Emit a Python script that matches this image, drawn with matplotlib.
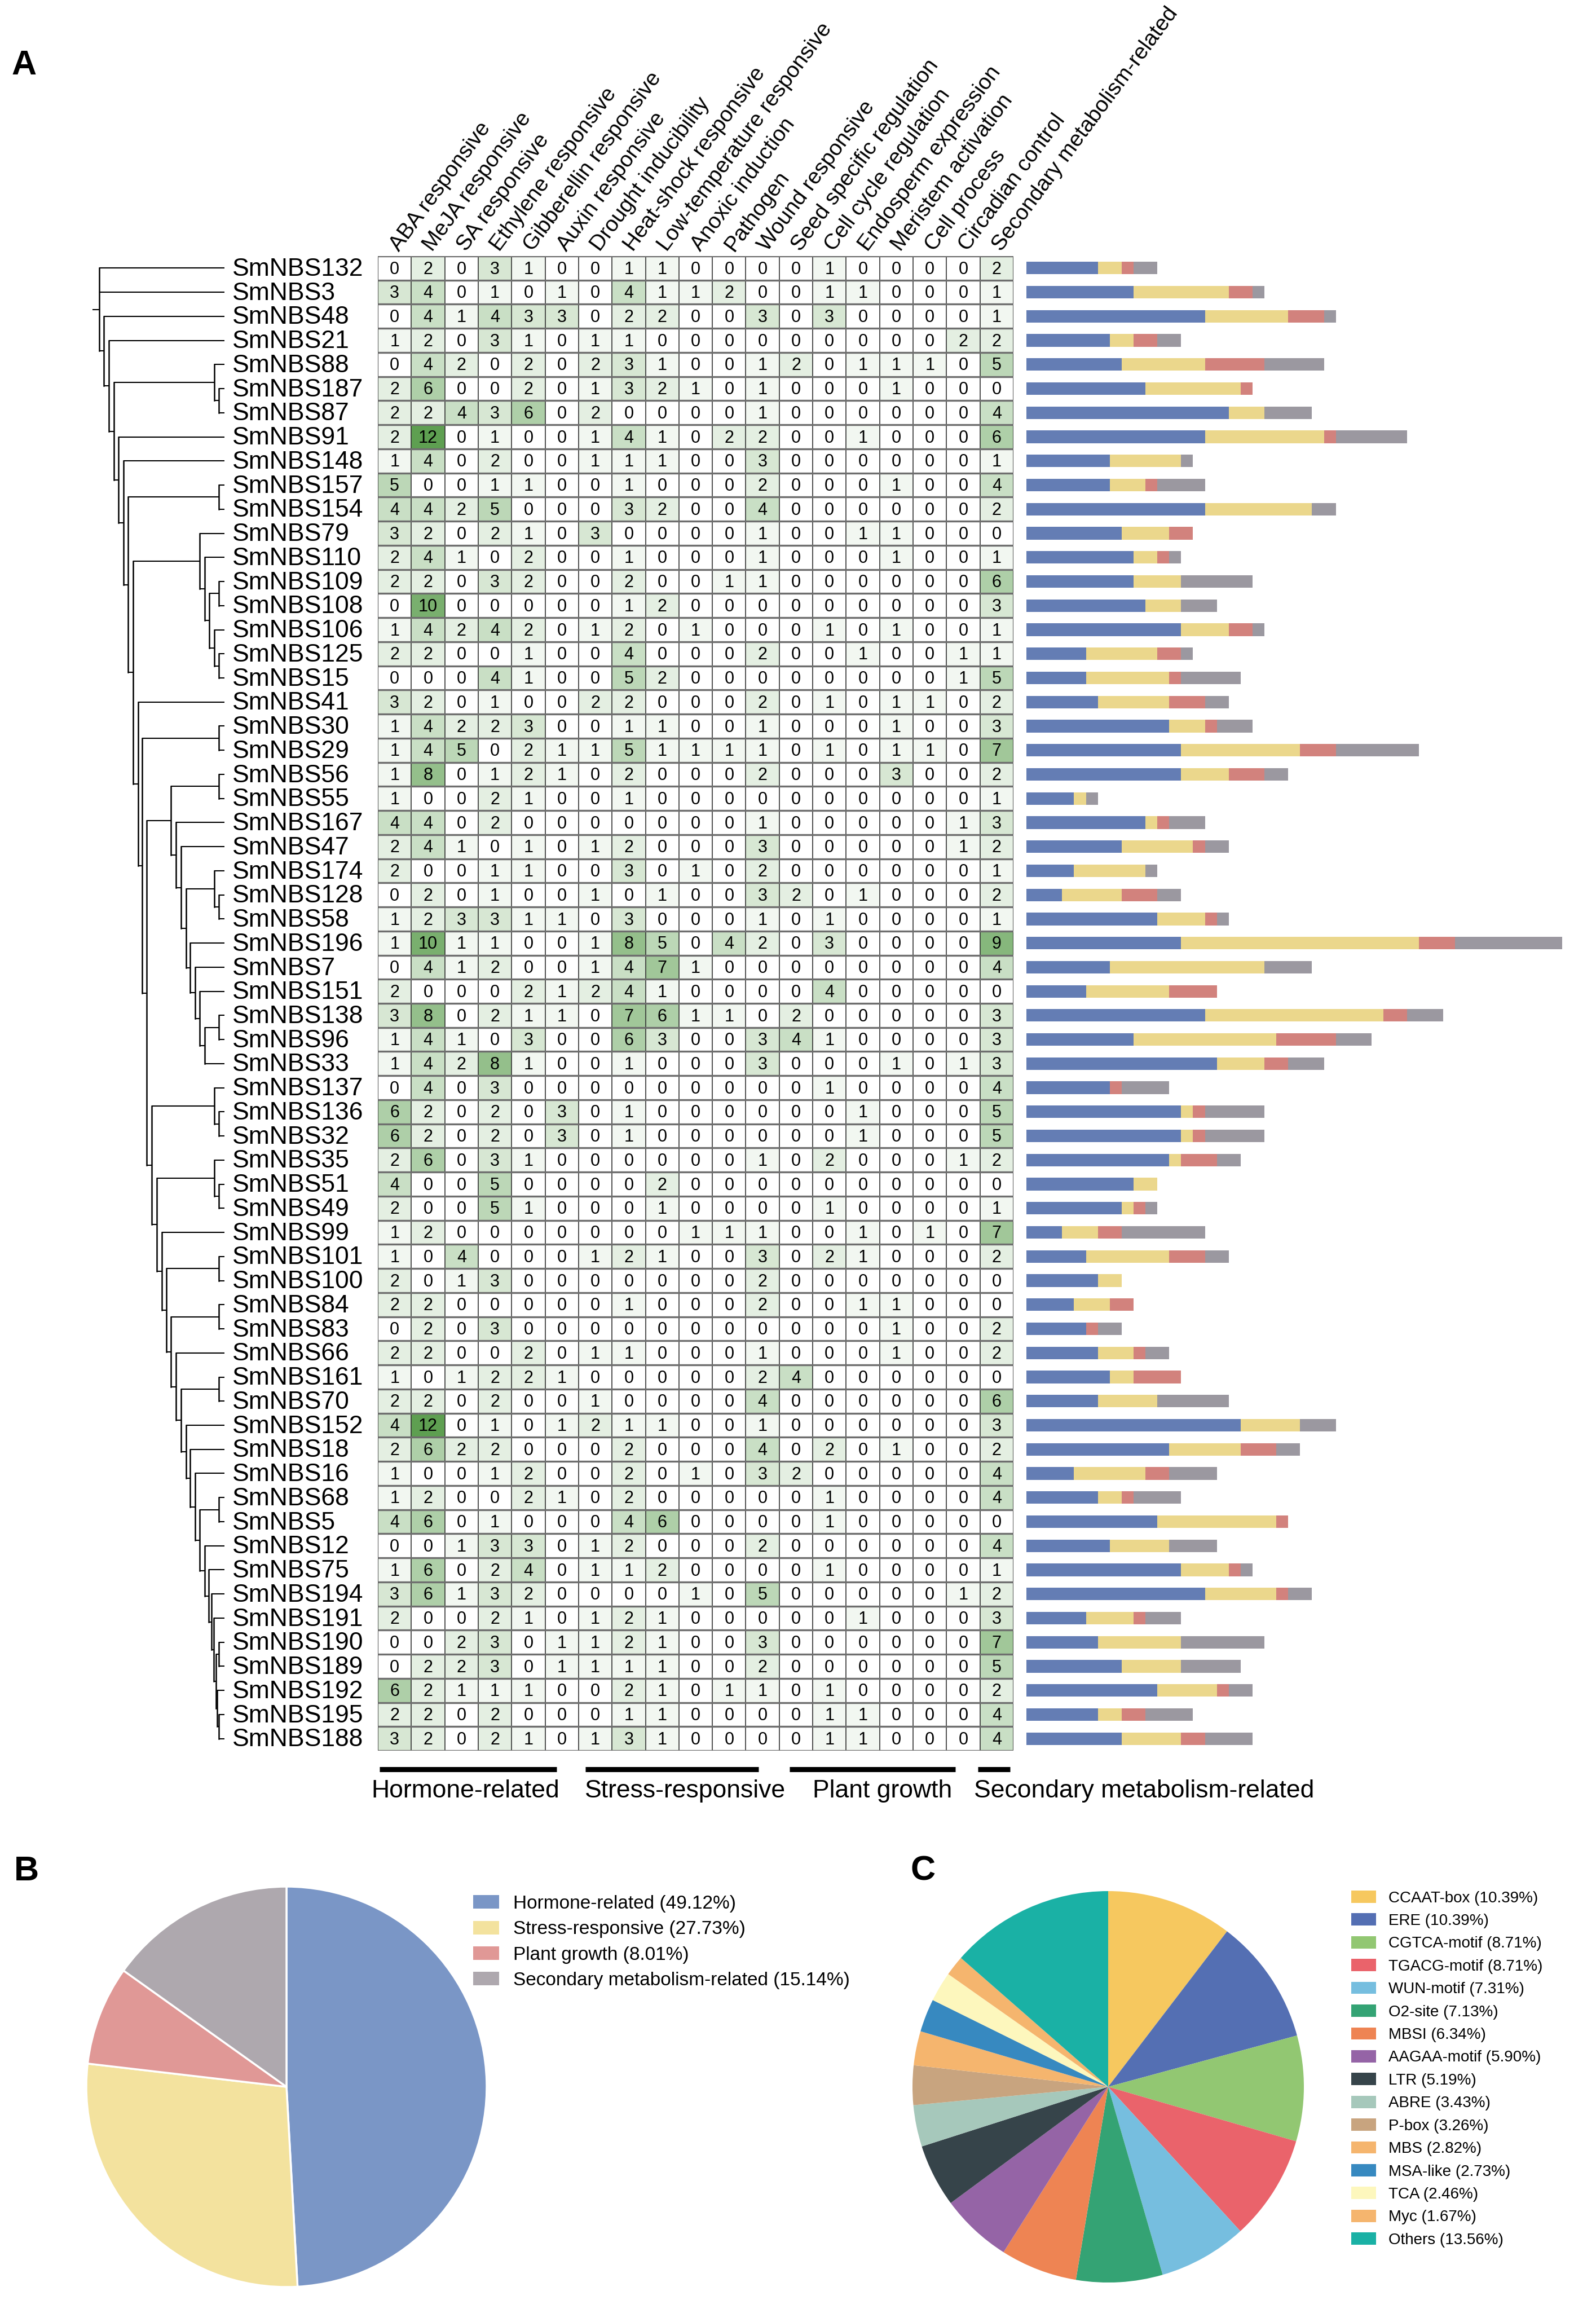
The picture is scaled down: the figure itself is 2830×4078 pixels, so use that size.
import numpy as np
import matplotlib
matplotlib.use("Agg")
import matplotlib.pyplot as plt
from matplotlib.colors import LinearSegmentedColormap
from matplotlib.patches import Patch
from matplotlib.transforms import blended_transform_factory

plt.rcParams['font.family'] = ['Liberation Sans', 'DejaVu Sans']

# ---------------- data ----------------
elements = ["ABA responsive", "MeJA responsive", "SA responsive", "Ethylene responsive",
            "Gibberellin responsive", "Auxin responsive", "Drought inducibility",
            "Heat-shock responsive", "Low-temperature responsive", "Anoxic induction",
            "Pathogen", "Wound responsive", "Seed specific regulation", "Cell cycle regulation",
            "Endosperm expression", "Meristem activation", "Cell process", "Circadian control",
            "Secondary metabolism-related"]

genes = ["SmNBS132", "SmNBS3", "SmNBS48", "SmNBS21", "SmNBS88", "SmNBS187", "SmNBS87", "SmNBS91",
         "SmNBS148", "SmNBS157", "SmNBS154", "SmNBS79", "SmNBS110", "SmNBS109", "SmNBS108",
         "SmNBS106", "SmNBS125", "SmNBS15", "SmNBS41", "SmNBS30", "SmNBS29", "SmNBS56", "SmNBS55",
         "SmNBS167", "SmNBS47", "SmNBS174", "SmNBS128", "SmNBS58", "SmNBS196", "SmNBS7", "SmNBS151",
         "SmNBS138", "SmNBS96", "SmNBS33", "SmNBS137", "SmNBS136", "SmNBS32", "SmNBS35", "SmNBS51",
         "SmNBS49", "SmNBS99", "SmNBS101", "SmNBS100", "SmNBS84", "SmNBS83", "SmNBS66", "SmNBS161",
         "SmNBS70", "SmNBS152", "SmNBS18", "SmNBS16", "SmNBS68", "SmNBS5", "SmNBS12", "SmNBS75",
         "SmNBS194", "SmNBS191", "SmNBS190", "SmNBS189", "SmNBS192", "SmNBS195", "SmNBS188"]

counts = [
    [0, 2, 0, 3, 1, 0, 0, 1, 1, 0, 0, 0, 0, 1, 0, 0, 0, 0, 2],
    [3, 4, 0, 1, 0, 1, 0, 4, 1, 1, 2, 0, 0, 1, 1, 0, 0, 0, 1],
    [0, 4, 1, 4, 3, 3, 0, 2, 2, 0, 0, 3, 0, 3, 0, 0, 0, 0, 1],
    [1, 2, 0, 3, 1, 0, 1, 1, 0, 0, 0, 0, 0, 0, 0, 0, 0, 2, 2],
    [0, 4, 2, 0, 2, 0, 2, 3, 1, 0, 0, 1, 2, 0, 1, 1, 1, 0, 5],
    [2, 6, 0, 0, 2, 0, 1, 3, 2, 1, 0, 1, 0, 0, 0, 1, 0, 0, 0],
    [2, 2, 4, 3, 6, 0, 2, 0, 0, 0, 0, 1, 0, 0, 0, 0, 0, 0, 4],
    [2, 12, 0, 1, 0, 0, 1, 4, 1, 0, 2, 2, 0, 0, 1, 0, 0, 0, 6],
    [1, 4, 0, 2, 0, 0, 1, 1, 1, 0, 0, 3, 0, 0, 0, 0, 0, 0, 1],
    [5, 0, 0, 1, 1, 0, 0, 1, 0, 0, 0, 2, 0, 0, 0, 1, 0, 0, 4],
    [4, 4, 2, 5, 0, 0, 0, 3, 2, 0, 0, 4, 0, 0, 0, 0, 0, 0, 2],
    [3, 2, 0, 2, 1, 0, 3, 0, 0, 0, 0, 1, 0, 0, 1, 1, 0, 0, 0],
    [2, 4, 1, 0, 2, 0, 0, 1, 0, 0, 0, 1, 0, 0, 0, 1, 0, 0, 1],
    [2, 2, 0, 3, 2, 0, 0, 2, 0, 0, 1, 1, 0, 0, 0, 0, 0, 0, 6],
    [0, 10, 0, 0, 0, 0, 0, 1, 2, 0, 0, 0, 0, 0, 0, 0, 0, 0, 3],
    [1, 4, 2, 4, 2, 0, 1, 2, 0, 1, 0, 0, 0, 1, 0, 1, 0, 0, 1],
    [2, 2, 0, 0, 1, 0, 0, 4, 0, 0, 0, 2, 0, 0, 1, 0, 0, 1, 1],
    [0, 0, 0, 4, 1, 0, 0, 5, 2, 0, 0, 0, 0, 0, 0, 0, 0, 1, 5],
    [3, 2, 0, 1, 0, 0, 2, 2, 0, 0, 0, 2, 0, 1, 0, 1, 1, 0, 2],
    [1, 4, 2, 2, 3, 0, 0, 1, 1, 0, 0, 1, 0, 0, 0, 1, 0, 0, 3],
    [1, 4, 5, 0, 2, 1, 1, 5, 1, 1, 1, 1, 0, 1, 0, 1, 1, 0, 7],
    [1, 8, 0, 1, 2, 1, 0, 2, 0, 0, 0, 2, 0, 0, 0, 3, 0, 0, 2],
    [1, 0, 0, 2, 1, 0, 0, 1, 0, 0, 0, 0, 0, 0, 0, 0, 0, 0, 1],
    [4, 4, 0, 2, 0, 0, 0, 0, 0, 0, 0, 1, 0, 0, 0, 0, 0, 1, 3],
    [2, 4, 1, 0, 1, 0, 1, 2, 0, 0, 0, 3, 0, 0, 0, 0, 0, 1, 2],
    [2, 0, 0, 1, 1, 0, 0, 3, 0, 1, 0, 2, 0, 0, 0, 0, 0, 0, 1],
    [0, 2, 0, 1, 0, 0, 1, 0, 1, 0, 0, 3, 2, 0, 1, 0, 0, 0, 2],
    [1, 2, 3, 3, 1, 1, 0, 3, 0, 0, 0, 1, 0, 1, 0, 0, 0, 0, 1],
    [1, 10, 1, 1, 0, 0, 1, 8, 5, 0, 4, 2, 0, 3, 0, 0, 0, 0, 9],
    [0, 4, 1, 2, 0, 0, 1, 4, 7, 1, 0, 0, 0, 0, 0, 0, 0, 0, 4],
    [2, 0, 0, 0, 2, 1, 2, 4, 1, 0, 0, 0, 0, 4, 0, 0, 0, 0, 0],
    [3, 8, 0, 2, 1, 1, 0, 7, 6, 1, 1, 0, 2, 0, 0, 0, 0, 0, 3],
    [1, 4, 1, 0, 3, 0, 0, 6, 3, 0, 0, 3, 4, 1, 0, 0, 0, 0, 3],
    [1, 4, 2, 8, 1, 0, 0, 1, 0, 0, 0, 3, 0, 0, 0, 1, 0, 1, 3],
    [0, 4, 0, 3, 0, 0, 0, 0, 0, 0, 0, 0, 0, 1, 0, 0, 0, 0, 4],
    [6, 2, 0, 2, 0, 3, 0, 1, 0, 0, 0, 0, 0, 0, 1, 0, 0, 0, 5],
    [6, 2, 0, 2, 0, 3, 0, 1, 0, 0, 0, 0, 0, 0, 1, 0, 0, 0, 5],
    [2, 6, 0, 3, 1, 0, 0, 0, 0, 0, 0, 1, 0, 2, 0, 0, 0, 1, 2],
    [4, 0, 0, 5, 0, 0, 0, 0, 2, 0, 0, 0, 0, 0, 0, 0, 0, 0, 0],
    [2, 0, 0, 5, 1, 0, 0, 0, 1, 0, 0, 0, 0, 1, 0, 0, 0, 0, 1],
    [1, 2, 0, 0, 0, 0, 0, 0, 0, 1, 1, 1, 0, 0, 1, 0, 1, 0, 7],
    [1, 0, 4, 0, 0, 0, 1, 2, 1, 0, 0, 3, 0, 2, 1, 0, 0, 0, 2],
    [2, 0, 1, 3, 0, 0, 0, 0, 0, 0, 0, 2, 0, 0, 0, 0, 0, 0, 0],
    [2, 2, 0, 0, 0, 0, 0, 1, 0, 0, 0, 2, 0, 0, 1, 1, 0, 0, 0],
    [0, 2, 0, 3, 0, 0, 0, 0, 0, 0, 0, 0, 0, 0, 0, 1, 0, 0, 2],
    [2, 2, 0, 0, 2, 0, 1, 1, 0, 0, 0, 1, 0, 0, 0, 1, 0, 0, 2],
    [1, 0, 1, 2, 2, 1, 0, 0, 0, 0, 0, 2, 4, 0, 0, 0, 0, 0, 0],
    [2, 2, 0, 2, 0, 0, 1, 0, 0, 0, 0, 4, 0, 0, 0, 0, 0, 0, 6],
    [4, 12, 0, 1, 0, 1, 2, 1, 1, 0, 0, 1, 0, 0, 0, 0, 0, 0, 3],
    [2, 6, 2, 2, 0, 0, 0, 2, 0, 0, 0, 4, 0, 2, 0, 1, 0, 0, 2],
    [1, 0, 0, 1, 2, 0, 0, 2, 0, 1, 0, 3, 2, 0, 0, 0, 0, 0, 4],
    [1, 2, 0, 0, 2, 1, 0, 2, 0, 0, 0, 0, 0, 1, 0, 0, 0, 0, 4],
    [4, 6, 0, 1, 0, 0, 0, 4, 6, 0, 0, 0, 0, 1, 0, 0, 0, 0, 0],
    [0, 0, 1, 3, 3, 0, 1, 2, 0, 0, 0, 2, 0, 0, 0, 0, 0, 0, 4],
    [1, 6, 0, 2, 4, 0, 1, 1, 2, 0, 0, 0, 0, 1, 0, 0, 0, 0, 1],
    [3, 6, 1, 3, 2, 0, 0, 0, 0, 1, 0, 5, 0, 0, 0, 0, 0, 1, 2],
    [2, 0, 0, 2, 1, 0, 1, 2, 1, 0, 0, 0, 0, 0, 1, 0, 0, 0, 3],
    [0, 0, 2, 3, 0, 1, 1, 2, 1, 0, 0, 3, 0, 0, 0, 0, 0, 0, 7],
    [0, 2, 2, 3, 0, 1, 1, 1, 1, 0, 0, 2, 0, 0, 0, 0, 0, 0, 5],
    [6, 2, 1, 1, 1, 0, 0, 2, 1, 0, 1, 1, 0, 1, 0, 0, 0, 0, 2],
    [2, 2, 0, 2, 0, 0, 0, 1, 1, 0, 0, 0, 0, 1, 1, 0, 0, 0, 4],
    [3, 2, 0, 2, 1, 0, 1, 3, 1, 0, 0, 0, 0, 1, 1, 0, 0, 0, 4],
]

groups = ["Hormone-related", "Stress-responsive", "Plant growth", "Secondary metabolism-related"]
group_columns = [(0, 6), (6, 12), (12, 18), (18, 19)]
group_share = [49.12, 27.73, 8.01, 15.14]

motifs = ["CCAAT-box", "ERE", "CGTCA-motif", "TGACG-motif", "WUN-motif", "O2-site", "MBSI",
          "AAGAA-motif", "LTR", "ABRE", "P-box", "MBS", "MSA-like", "TCA", "Myc", "Others"]
motif_share = [10.39, 10.39, 8.71, 8.71, 7.31, 7.13, 6.34, 5.90, 5.19, 3.43, 3.26, 2.82,
               2.73, 2.46, 1.67, 13.56]


# ---------------- tree (node depth, children) ----------------
def P(x, a, b):
    return (x, [a, b])


def chain(xs, items):
    node = items[-1]
    for x, it in zip(reversed(xs), reversed(items[:-1])):
        node = (x, [it, node])
    return node


c88 = P(690, "SmNBS88", P(715, "SmNBS187", "SmNBS87"))
c106 = P(690, "SmNBS106", P(715, "SmNBS125", "SmNBS15"))
c79 = P(612, "SmNBS79", P(638, "SmNBS110", P(663, P(715, "SmNBS109", "SmNBS108"), c106)))
c174 = P(690, "SmNBS174", P(715, "SmNBS128", "SmNBS58"))
c137 = P(690, "SmNBS137", P(715, "SmNBS136", "SmNBS32"))
c35 = P(690, "SmNBS35", P(715, "SmNBS51", "SmNBS49"))
c192 = P(705, "SmNBS192", P(715, "SmNBS195", "SmNBS188"))

L1 = chain([460, 487, 512, 540, 562, 587, 612, 638],
           [P(715, "SmNBS56", "SmNBS55"), "SmNBS167", "SmNBS47", c174, "SmNBS196", "SmNBS7",
            "SmNBS151", P(715, "SmNBS138", "SmNBS96"), "SmNBS33"])
L2 = chain([410, 435, 460, 487, 512, 540, 562, 587, 612, 638, 660, 675, 688, 700],
           ["SmNBS99", P(715, "SmNBS101", "SmNBS100"), P(715, "SmNBS84", "SmNBS83"), "SmNBS66",
            P(715, "SmNBS161", "SmNBS70"), "SmNBS152", "SmNBS18", "SmNBS16",
            P(715, "SmNBS68", "SmNBS5"), "SmNBS12", "SmNBS75", "SmNBS194", "SmNBS191",
            P(715, "SmNBS190", "SmNBS189"), c192])
top = chain([103, 130, 155, 180, 207, 232, 258, 285, 305, 330, 357, 383],
            ["SmNBS48", "SmNBS21", c88, "SmNBS91", "SmNBS148", P(715, "SmNBS157", "SmNBS154"),
             c79, "SmNBS41", P(715, "SmNBS30", "SmNBS29"), L1, c137, c35, L2])
tree = (78, ["SmNBS132", "SmNBS3", top])

# ---------------- layout helpers ----------------
W, H = 2830, 4078
fig = plt.figure(figsize=(W / 100, H / 100), dpi=100)


def px_axes(x0, y0, x1, y1):
    return fig.add_axes([x0 / W, 1 - y1 / H, (x1 - x0) / W, (y1 - y0) / H])


data = np.array(counts)
n_rows, n_cols = data.shape
hm_top, hm_bot = 454, 3104
hm_left, hm_right = 670, 1797

# ---------------- heatmap ----------------
ax = px_axes(hm_left, hm_top, hm_right, hm_bot)
cmap = LinearSegmentedColormap.from_list("grn", ["#ffffff", "#5e9f51"])
ax.pcolormesh(np.arange(n_cols + 1), np.arange(n_rows + 1), data, cmap=cmap, vmin=0, vmax=12)
ax.set_xlim(0, n_cols)
ax.set_ylim(n_rows, 0)
for i in range(n_rows):
    for j in range(n_cols):
        ax.text(j + 0.5, i + 0.55, str(data[i, j]), ha='center', va='center', fontsize=22)
ax.vlines(np.arange(n_cols + 1), 0, n_rows, color='#333333', lw=1.2)
ax.hlines(np.arange(n_rows + 1), 0, n_cols, color='#6e6e6e', lw=2.4)
ax.axis('off')

# column headers
for j, name in enumerate(elements):
    ax.text(j + 0.5, -0.3, name, rotation=53.5, rotation_mode='anchor', ha='left', va='center',
            fontsize=28, clip_on=False)

# gene names
trans = blended_transform_factory(ax.transAxes, ax.transData)
for i, g in enumerate(genes):
    ax.text((412 - hm_left) / (hm_right - hm_left), i + 0.55, g, transform=trans,
            ha='left', va='center', fontsize=32)

# group bars below heatmap
line_spans = [(0.05, 5.35), (6.2, 11.38), (12.3, 17.27), (17.94, 18.9)]
label_x = [-0.19, 6.19, 13.0, 17.82]
for (l, r), lx, name in zip(line_spans, label_x, groups):
    ax.plot([l, r], [n_rows + 0.77, n_rows + 0.77], color='black', lw=6.5,
            solid_capstyle='butt', clip_on=False)
    ax.text(lx, n_rows + 1.68, name, ha='left', va='center', fontsize=32, clip_on=False)

# ---------------- dendrogram ----------------
axd = px_axes(150, hm_top, 420, hm_bot)
axd.set_ylim(n_rows, 0)
axd.set_xlim(150, 420)
axd.axis('off')
row_of = {g: i + 0.5 for i, g in enumerate(genes)}
leaf_x = 398


def draw(node):
    if isinstance(node, str):
        return row_of[node], leaf_x
    x, kids = node
    x = 150 + x / 3
    pts = [draw(k) for k in kids]
    for y, xk in pts:
        axd.plot([x, xk], [y, y], color='black', lw=1.5, solid_capstyle='butt')
    ys = [p[0] for p in pts]
    axd.plot([x, x], [min(ys), max(ys)], color='black', lw=1.8)
    return (min(ys) + max(ys)) / 2, x


ry, rx = draw(tree)
axd.plot([rx - 11, rx], [ry, ry], color='black', lw=1.5)

# ---------------- stacked bars ----------------
bar_colors = ['#647db4', '#ebd78c', '#d2827d', '#9b98a0']
axb = px_axes(1820, hm_top, 2830, hm_bot)
left = np.zeros(n_rows)
for (a, b), c in zip(group_columns, bar_colors):
    vals = data[:, a:b].sum(axis=1)
    axb.barh(np.arange(n_rows) + 0.5, vals, left=left, height=0.52, color=c)
    left += vals
axb.set_ylim(n_rows, 0)
axb.set_xlim(0, 1010 / 21.1)
axb.axis('off')

# ---------------- pie B ----------------
pie_b_colors = ['#7a96c6', '#f3e29e', '#e09896', '#aea8ae']
axp = px_axes(508 - 355, 3700 - 355, 508 + 355, 3700 + 355)
axp.pie(group_share, colors=pie_b_colors, startangle=90, counterclock=False,
        wedgeprops=dict(edgecolor='white', linewidth=2.5))
axp.set_xlim(-1, 1)
axp.set_ylim(-1, 1)
hb = [Patch(facecolor=c, label=f"{n} ({v:.2f}%)") for n, c, v in zip(groups, pie_b_colors, group_share)]
fig.legend(handles=hb, loc='upper left', bbox_to_anchor=(839 / W, 1 - 3360 / H), frameon=False,
           fontsize=24, handlelength=1.38, handleheight=0.72, handletextpad=0.75,
           labelspacing=0.43, borderpad=0, borderaxespad=0)

# ---------------- pie C ----------------
motif_colors = ['#f6c85f', '#546fb3', '#92c772', '#ea636b', '#76bedf', '#34a374', '#ee8453',
                '#9564a6', '#36444a', '#a6c8bb', '#c8a47f', '#f5b56e', '#3789c0', '#fdf7bd',
                '#f5b56e', '#1ab1a5']
axc = px_axes(1965 - 347, 3700 - 347, 1965 + 347, 3700 + 347)
axc.pie(motif_share, colors=motif_colors, startangle=90, counterclock=False,
        wedgeprops=dict(linewidth=0))
axc.set_xlim(-1, 1)
axc.set_ylim(-1, 1)
hc = [Patch(facecolor=c, label=f"{n} ({v:.2f}%)") for n, c, v in zip(motifs, motif_colors, motif_share)]
fig.legend(handles=hc, loc='upper left', bbox_to_anchor=(2396 / W, 1 - 3352 / H), frameon=False,
           fontsize=20, handlelength=1.58, handleheight=0.83, handletextpad=0.8,
           labelspacing=0.5, borderpad=0, borderaxespad=0)

# panel letters
for lab, x, y in [("A", 20, 88), ("B", 25, 3290), ("C", 1615, 3290)]:
    fig.text(x / W, 1 - y / H, lab, fontsize=44, fontweight='bold', ha='left', va='top')

fig.savefig("out.png", dpi=100)
